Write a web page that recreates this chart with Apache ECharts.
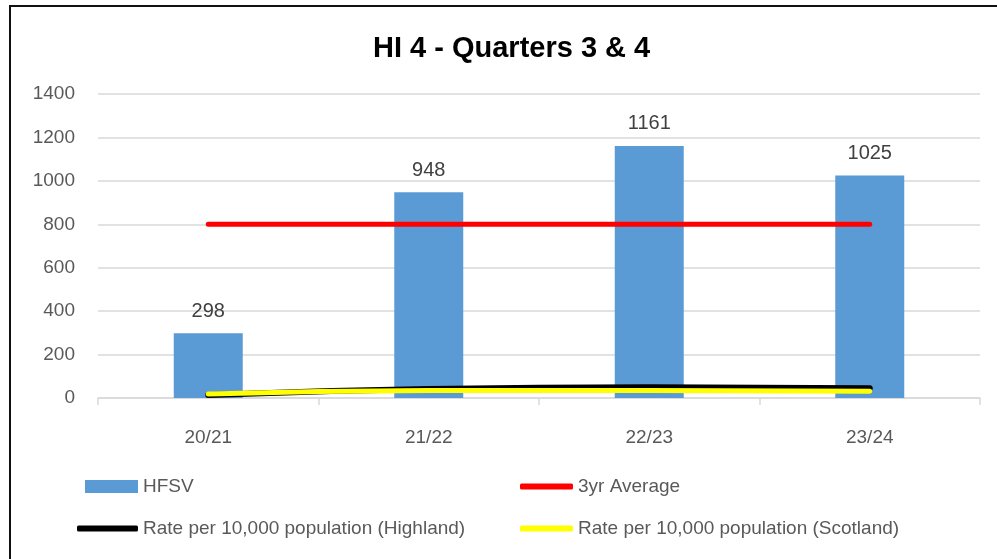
<!DOCTYPE html>
<html>
<head>
<meta charset="utf-8">
<script src="https://cdn.jsdelivr.net/npm/echarts@6/dist/echarts.min.js"></script>
<style>
  body { margin: 0; background: #fff; }
  #wrap { position: relative; width: 997px; height: 559px; }
  #chart { width: 997px; height: 559px; }
  #frame { position: absolute; left: 9px; top: 5px; width: 1000px; height: 600px;
           border-left: 2px solid #111; border-top: 2px solid #111; pointer-events: none; }
</style>
</head>
<body>
<div id="wrap">
  <div id="chart"></div>
  <div id="frame"></div>
</div>
<script>
// values
const categories = ['20/21', '21/22', '22/23', '23/24'];
const hfsv = [298, 948, 1161, 1025];
const avg3yr = [800, 800, 800, 800];
const rateHighland = [14, 42, 49, 45];
const rateScotland = [18, 35, 35, 31];

const font = 'Liberation Sans';
const grey = '#595959';

const chart = echarts.init(document.getElementById('chart'));

const legendText = { color: grey, fontSize: 19, fontFamily: font };

chart.setOption({
  animation: false,
  title: {
    text: 'HI 4 - Quarters 3 & 4',
    left: 368, top: 29,
    textStyle: { fontFamily: font, fontWeight: 'bold', fontSize: 29, color: '#000' }
  },
  grid: { left: 98, right: 17, top: 94, bottom: 161 },
  legend: [
    { data: ['HFSV'], left: 80, top: 472, itemWidth: 53, itemHeight: 13, icon: 'rect', textStyle: legendText },
    { data: ['3yr Average'], left: 515, top: 472, itemWidth: 53, itemHeight: 6, icon: 'roundRect', textStyle: legendText },
    { data: ['Rate per 10,000 population (Highland)'], left: 72, top: 514, itemWidth: 61, itemHeight: 6, icon: 'roundRect', textStyle: legendText },
    { data: ['Rate per 10,000 population (Scotland)'], left: 515, top: 514, itemWidth: 53, itemHeight: 6, icon: 'roundRect', textStyle: legendText }
  ],
  xAxis: {
    type: 'category',
    data: categories,
    axisLine: { lineStyle: { color: '#d9d9d9', width: 1.5 } },
    axisTick: { show: true, length: 7, lineStyle: { color: '#d9d9d9', width: 1.5 } },
    axisLabel: { color: grey, fontSize: 19, fontFamily: font, margin: 30 }
  },
  yAxis: {
    type: 'value',
    min: 0, max: 1400, interval: 200,
    axisLine: { show: false },
    axisTick: { show: false },
    splitLine: { lineStyle: { color: '#d9d9d9', width: 1.5 } },
    axisLabel: { color: grey, fontSize: 19, fontFamily: font, margin: 23, formatter: (v) => String(v) }
  },
  series: [
    {
      name: 'HFSV', type: 'bar', data: hfsv, barWidth: 69,
      itemStyle: { color: '#5b9bd5' },
      label: { show: true, position: 'top', distance: 12, color: '#404040', fontSize: 20, fontFamily: font }
    },
    {
      name: '3yr Average', type: 'line', data: avg3yr, showSymbol: false, symbol: 'none',
      lineStyle: { color: '#ff0000', width: 5, cap: 'round' }, itemStyle: { color: '#ff0000' }
    },
    {
      name: 'Rate per 10,000 population (Highland)', type: 'line', data: rateHighland, smooth: true,
      showSymbol: false, symbol: 'none',
      lineStyle: { color: '#000000', width: 6, cap: 'round' }, itemStyle: { color: '#000000' }
    },
    {
      name: 'Rate per 10,000 population (Scotland)', type: 'line', data: rateScotland, smooth: true,
      showSymbol: false, symbol: 'none',
      lineStyle: { color: '#ffff00', width: 5, cap: 'round' }, itemStyle: { color: '#ffff00' }
    }
  ]
});
</script>
</body>
</html>
